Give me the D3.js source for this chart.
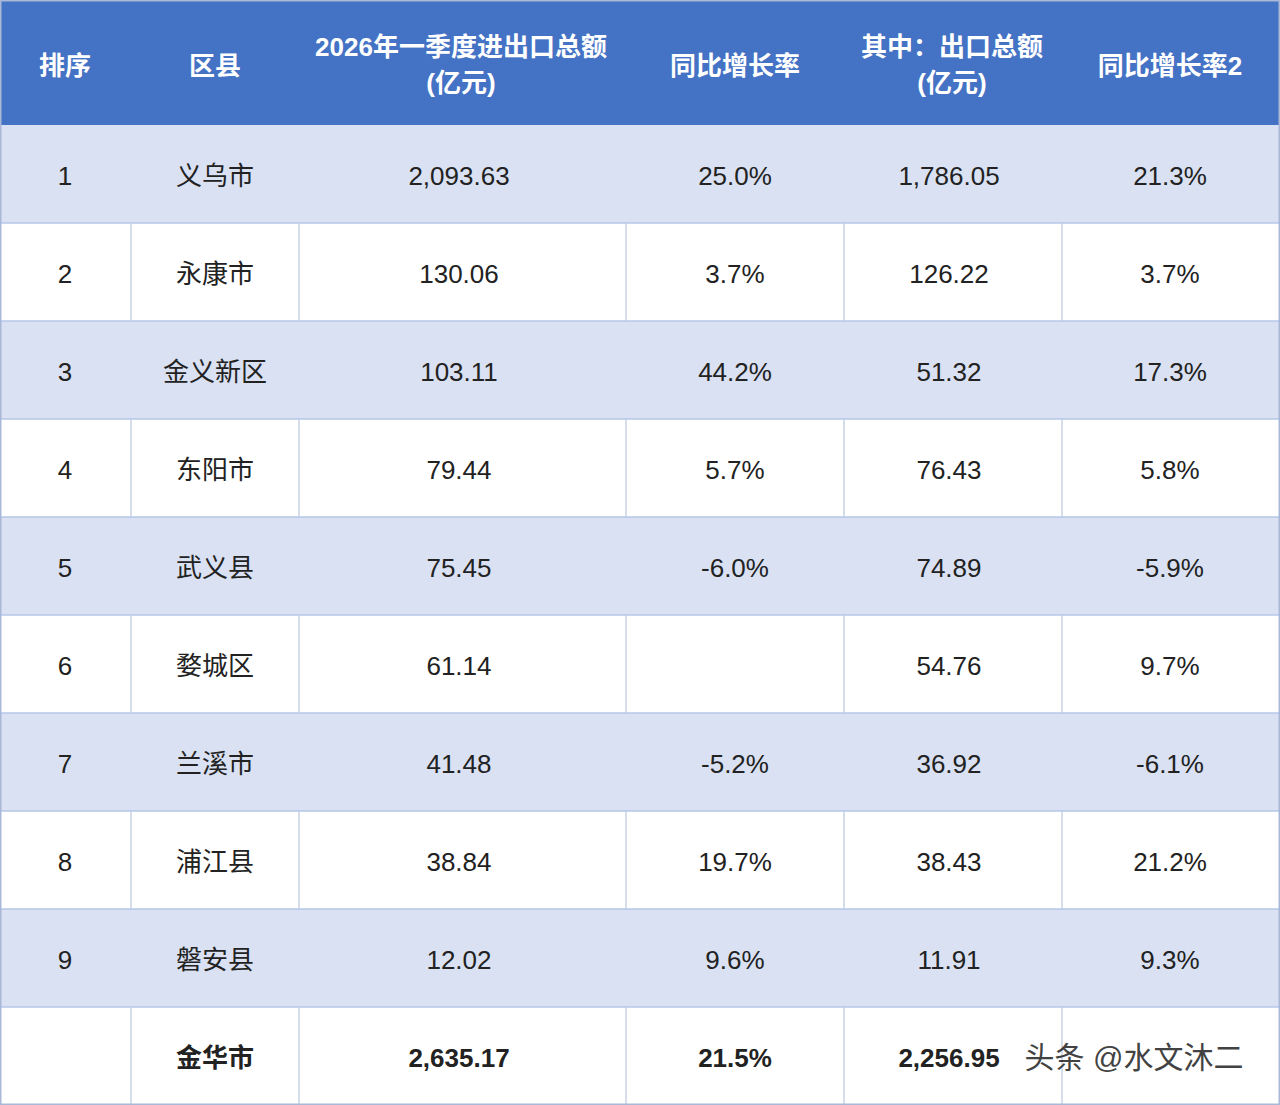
<!DOCTYPE html><html><head><meta charset="utf-8"><script src="https://cdn.jsdelivr.net/npm/d3@7"></script>
<style>body{margin:0;background:#fff}</style></head><body><svg id="c" width="1280" height="1105"></svg>
<script>
const headers=[["排序"],["区县"],["2026年一季度进出口总额","(亿元)"],["同比增长率"],["其中：出口总额","(亿元)"],["同比增长率2"]];
const ranks=["1","2","3","4","5","6","7","8","9",""];
const districts=["义乌市","永康市","金义新区","东阳市","武义县","婺城区","兰溪市","浦江县","磐安县","金华市"];
const totals=["2,093.63","130.06","103.11","79.44","75.45","61.14","41.48","38.84","12.02","2,635.17"];
const growth=["25.0%","3.7%","44.2%","5.7%","-6.0%","","-5.2%","19.7%","9.6%","21.5%"];
const exportsV=["1,786.05","126.22","51.32","76.43","74.89","54.76","36.92","38.43","11.91","2,256.95"];
const growth2=["21.3%","3.7%","17.3%","5.8%","-5.9%","9.7%","-6.1%","21.2%","9.3%",""];
const colEdges=[0,131,299,626,844,1062,1280];
const textX=[65,215,459,735,949,1170];
const svg=d3.select("#c");
const font="'Liberation Sans','Noto Sans CJK SC',sans-serif";
const y=d3.scaleLinear().domain([0,10]).range([125,1105]);
svg.append("rect").attr("x",0).attr("y",0).attr("width",1280).attr("height",125).attr("fill","#4472C4");
svg.selectAll("g.h").data(headers).join("g").each(function(h,i){
  const t=d3.select(this).append("text").attr("x",textX[i]+(i==2?2:i==4?3:0)).attr("fill","#fff").attr("font-family",font).attr("font-weight","bold").attr("font-size",26).attr("text-anchor","middle");
  if(h.length==1)t.append("tspan").attr("y",75).text(h[0]);
  else{t.append("tspan").attr("y",56).text(h[0]);t.append("tspan").attr("x",textX[i]+(i==2?2:3)).attr("y",92).text(h[1]);}
});
const rows=d3.range(10);
svg.selectAll("rect.r").data(rows).join("rect").attr("x",0).attr("y",d=>y(d)).attr("width",1280).attr("height",y(1)-y(0)).attr("fill",d=>d%2==0&&d<9?"#D9E1F2":"#fff");
rows.forEach(r=>{ if(r%2==1||r==9) colEdges.slice(1,-1).forEach(x=>svg.append("line").attr("x1",x).attr("x2",x).attr("y1",y(r)).attr("y2",y(r+1)).attr("stroke","#C9D3E6").attr("stroke-width",1.5));});
rows.slice(1).forEach(r=>svg.append("line").attr("x1",0).attr("x2",1280).attr("y1",y(r)).attr("y2",y(r)).attr("stroke","#B4C6E7").attr("stroke-width",1.5));
svg.append("rect").attr("x",0.75).attr("y",0.75).attr("width",1278.5).attr("height",1103.5).attr("fill","none").attr("stroke","#A9B8D6").attr("stroke-width",1.5);
const cols=[ranks,districts,totals,growth,exportsV,growth2];
cols.forEach((col,ci)=>{
  svg.selectAll(null).data(col).join("text").attr("x",textX[ci]).attr("y",(d,i)=>y(i+0.5)+11).attr("text-anchor","middle")
   .attr("font-family",font).attr("font-size",26).attr("fill","#222").attr("font-weight",(d,i)=>i==9?"bold":"normal").text(d=>d);
});
svg.append("text").attr("x",1134).attr("y",y(9.5)+12).attr("text-anchor","middle").attr("font-family",font).attr("font-size",30).attr("fill","#222").attr("opacity",0.85).text("头条 @水文沐二");
</script></body></html>
